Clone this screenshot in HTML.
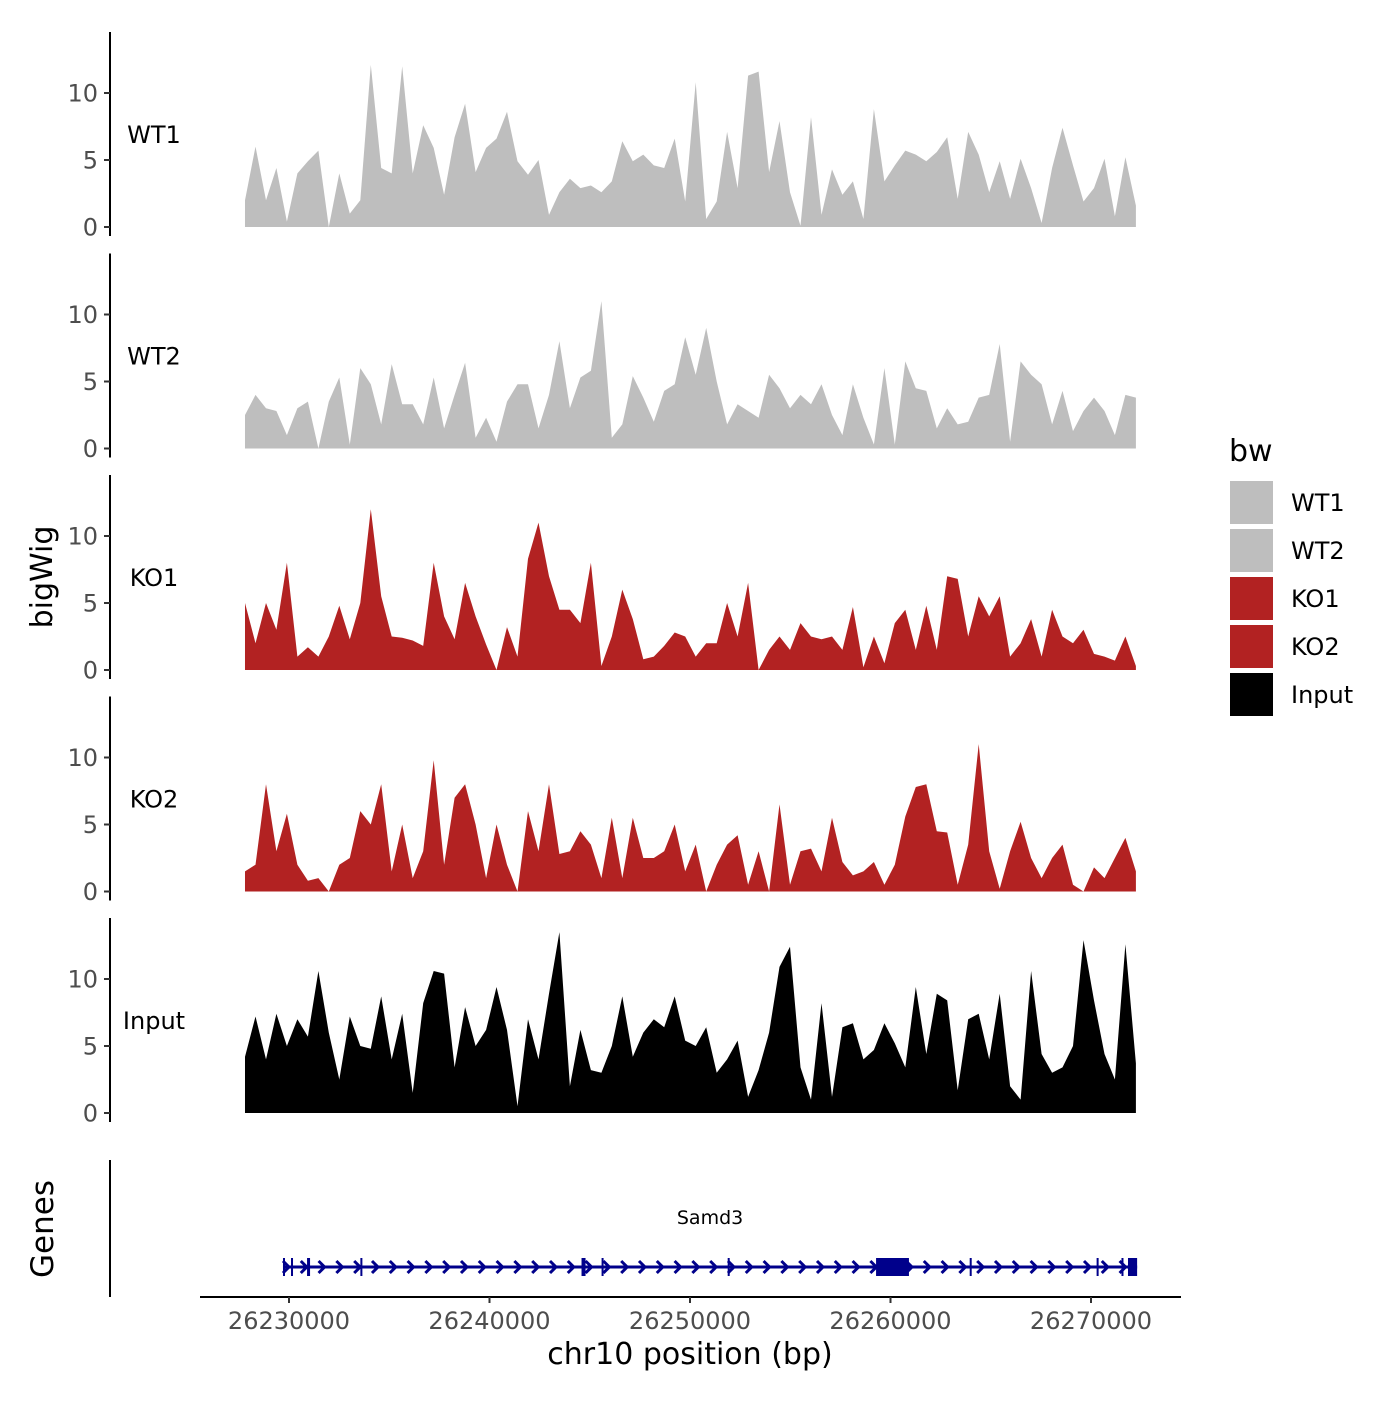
<!DOCTYPE html>
<html><head><meta charset="utf-8"><style>
body{margin:0;background:#fff;}
svg text{font-family:"DejaVu Sans","Liberation Sans",sans-serif;}
</style></head><body>
<svg id="chart" width="1400" height="1400" xmlns="http://www.w3.org/2000/svg">
<rect width="1400" height="1400" fill="#fff"/>
<g id="panels"></g>
<g id="genes"></g>
<g id="xaxis"></g>
<text x="52" y="577" transform="rotate(-90 52 577)" text-anchor="middle" font-size="30" fill="#000">bigWig</text>
<text x="53" y="1229" transform="rotate(-90 53 1229)" text-anchor="middle" font-size="31" fill="#000">Genes</text>
<text x="690" y="1364" text-anchor="middle" font-size="30" fill="#000">chr10 position (bp)</text>
<g id="legend">
<text x="1229" y="461" font-size="30" fill="#000">bw</text>
</g>
</svg>
<script>
const NS="http://www.w3.org/2000/svg";
const sampleNames=["WT1","WT2","KO1","KO2","Input"];
const sampleColors=["#bebebe","#bebebe","#b22222","#b22222","#000000"];
const wt1=[2,6,2,4.4,0.4,4,4.9,5.7,0,4,1,2,12.1,4.4,4,12,4,7.6,5.9,2.4,6.7,9.2,4.1,5.9,6.6,8.6,4.9,3.9,5,0.9,2.6,3.6,2.9,3.1,2.6,3.4,6.4,4.9,5.4,4.6,4.4,6.6,1.9,10.8,0.6,1.9,7.1,2.9,11.3,11.6,4.1,7.9,2.6,0.1,8.2,0.9,4.3,2.4,3.4,0.6,8.8,3.4,4.6,5.7,5.4,4.9,5.6,6.7,2.1,7.1,5.4,2.6,4.9,2.1,5.1,2.9,0.3,4.4,7.4,4.6,1.9,2.9,5.1,0.8,5.2,1.6];
const wt2=[2.5,4,3,2.8,1,3,3.5,0,3.5,5.3,0.3,6,4.8,1.8,6.3,3.3,3.3,1.8,5.3,1.5,4,6.4,0.8,2.3,0.5,3.5,4.8,4.8,1.5,4,8,3,5.3,5.8,11,0.8,1.8,5.4,3.8,2,4.3,4.8,8.3,5.5,9,5,1.8,3.3,2.8,2.3,5.5,4.5,3,4,3.3,4.8,2.5,1,4.8,2.3,0.3,6,0.3,6.5,4.5,4.3,1.5,3,1.8,2,3.8,4,7.8,0.5,6.5,5.5,4.8,1.8,4.3,1.3,2.8,3.8,2.8,1,4,3.8];
const ko1=[5,2,5,3,8,1,1.7,1,2.5,4.8,2.3,5,12,5.5,2.5,2.4,2.2,1.8,8,4,2.3,6.5,4,1.9,0,3.2,1,8.3,11,7,4.5,4.5,3.5,8,0.3,2.5,6,3.8,0.8,1,1.8,2.8,2.5,1,2,2,5,2.5,6.5,0,1.5,2.5,1.5,3.5,2.5,2.3,2.5,1.5,4.7,0.2,2.5,0.5,3.5,4.5,1.5,4.8,1.5,7,6.8,2.5,5.5,4,5.5,1,2,3.8,1,4.5,2.5,2,3,1.2,1,0.7,2.5,0.3];
const ko2=[1.5,2,8,3,5.8,2,0.8,1,0,2,2.5,6,5,8,1.5,5,1,3,9.8,2,7,8,5,1,5,2,0,6,3,8,2.8,3,4.5,3.5,1,5.5,1,5.5,2.5,2.5,3,5,1.5,3.5,0,2,3.5,4.2,0.5,3,0,6.5,0.5,3,3.2,1.5,5.5,2.2,1.2,1.5,2.2,0.5,2,5.6,7.8,8,4.5,4.4,0.5,3.5,11,3,0.2,3,5.2,2.5,1,2.5,3.5,0.5,0,1.8,1,2.5,4,1.5];
const inp=[4.2,7.2,4,7.4,5,7,5.7,10.6,6,2.5,7.2,5,4.8,8.7,4,7.4,1.5,8.2,10.6,10.4,3.4,7.9,5,6.2,9.4,6.2,0.5,7,4,8.9,13.5,2,6.2,3.2,3,5,8.7,4.2,6,7,6.4,8.7,5.4,5,6.4,3,4,5.4,1.2,3.2,6,10.9,12.4,3.4,1,8.2,1.2,6.4,6.7,4,4.7,6.7,5.2,3.4,9.4,4.4,8.9,8.4,1.7,7,7.4,4,8.9,2,1,10.6,4.4,3,3.4,5,12.9,8.4,4.4,2.5,12.6,3.7];
const seriesValues=[wt1,wt2,ko1,ko2,inp];
const regionStart=26227805, regionEnd=26272240;
const yTicks=[0,5,10];
const xTicks=[26230000,26240000,26250000,26260000,26270000];
const geneName="Samd3";
const geneStart=26229700, geneEnd=26272300;
const exonStarts=[26229700,26230100,26230900,26233560,26244590,26245590,26251880,26259280,26263950,26270280,26271520,26271845];
const exonEnds=[26229800,26230200,26231050,26233660,26244790,26245680,26251980,26260920,26264050,26270380,26271610,26272300];

const xScale=bp=>289+(bp-26230000)*200.5/10000;
const panelBase=i=>227+i*221.5;
const yScale=(i,v)=>panelBase(i)-v*13.4;
function mk(tag,attrs,parent){const e=document.createElementNS(NS,tag);for(const k in attrs)e.setAttribute(k,attrs[k]);parent.appendChild(e);return e;}

const panels=document.getElementById('panels');
seriesValues.forEach((vals,i)=>{
  const g=mk('g',{},panels);
  
  
  const n=vals.length, step=(regionEnd-regionStart)/(n-1);
  let pts=[xScale(regionStart)+','+panelBase(i)];
  vals.forEach((v,k)=>{pts.push(xScale(regionStart+k*step).toFixed(1)+','+yScale(i,v).toFixed(1));});
  pts.push(xScale(regionEnd)+','+panelBase(i));
  const area=mk('polygon',{points:pts.join(' '),fill:sampleColors[i]},g);
  
  
  const ax=mk('line',{x1:110,x2:110,y1:panelBase(i)-195,y2:panelBase(i)+9,stroke:'#000','stroke-width':2},g);
  
  
  yTicks.forEach(t=>{
    const y=yScale(i,t);
    const tk=mk('line',{x1:104,x2:110,y1:y,y2:y,stroke:'#333','stroke-width':2},g);
    
    
    const tl=mk('text',{x:98,y:y+8.5,'text-anchor':'end','font-size':24,fill:'#4d4d4d'},g);
    tl.textContent=t;
    
    
  });
  const lab=mk('text',{x:154,y:panelBase(i)-84,'text-anchor':'middle','font-size':24,fill:'#000'},g);
  lab.textContent=sampleNames[i];
  
  
});

// gene track
const gg=document.getElementById('genes');
const gAx=mk('line',{x1:110,x2:110,y1:1160,y2:1297,stroke:'#000','stroke-width':2},gg);


const gl=mk('line',{x1:xScale(geneStart),x2:xScale(geneEnd),y1:1267,y2:1267,stroke:'#00008b','stroke-width':3},gg);


for(let x=xScale(geneStart)+3;x<xScale(geneEnd)-4;x+=17.8){
  const a=mk('polyline',{points:`${x-3},1261 ${x+3},1267 ${x-3},1273`,fill:'none',stroke:'#00008b','stroke-width':3},gg);
  
  
}
exonStarts.forEach((s,k)=>{
  const x1=xScale(s),x2=xScale(exonEnds[k]);
  const r=mk('rect',{x:x1,y:1258,width:Math.max(2,x2-x1),height:18,fill:'#00008b'},gg);
  
  
});
const gt=mk('text',{x:(xScale(geneStart)+xScale(geneEnd))/2,y:1224,'text-anchor':'middle','font-size':19,fill:'#000'},gg);
gt.textContent=geneName;



// x axis
const xa=document.getElementById('xaxis');
const xl=mk('line',{x1:200,x2:1181,y1:1297,y2:1297,stroke:'#000','stroke-width':2},xa);


xTicks.forEach(t=>{
  const x=xScale(t);
  const tk=mk('line',{x1:x,x2:x,y1:1297,y2:1303,stroke:'#333','stroke-width':2},xa);
  
  
  const tl=mk('text',{x:x,y:1329,'text-anchor':'middle','font-size':24,fill:'#4d4d4d'},xa);
  tl.textContent=t;
  
  
});

// legend
const lg=document.getElementById('legend');
sampleNames.forEach((n,k)=>{
  const y=481+k*48;
  const r=mk('rect',{x:1230,y:y,width:43,height:43,fill:sampleColors[k]},lg);
  
  
  const t=mk('text',{x:1291,y:y+30,'font-size':24,fill:'#000'},lg);
  t.textContent=n;
  
  
});
</script>
</body></html>
